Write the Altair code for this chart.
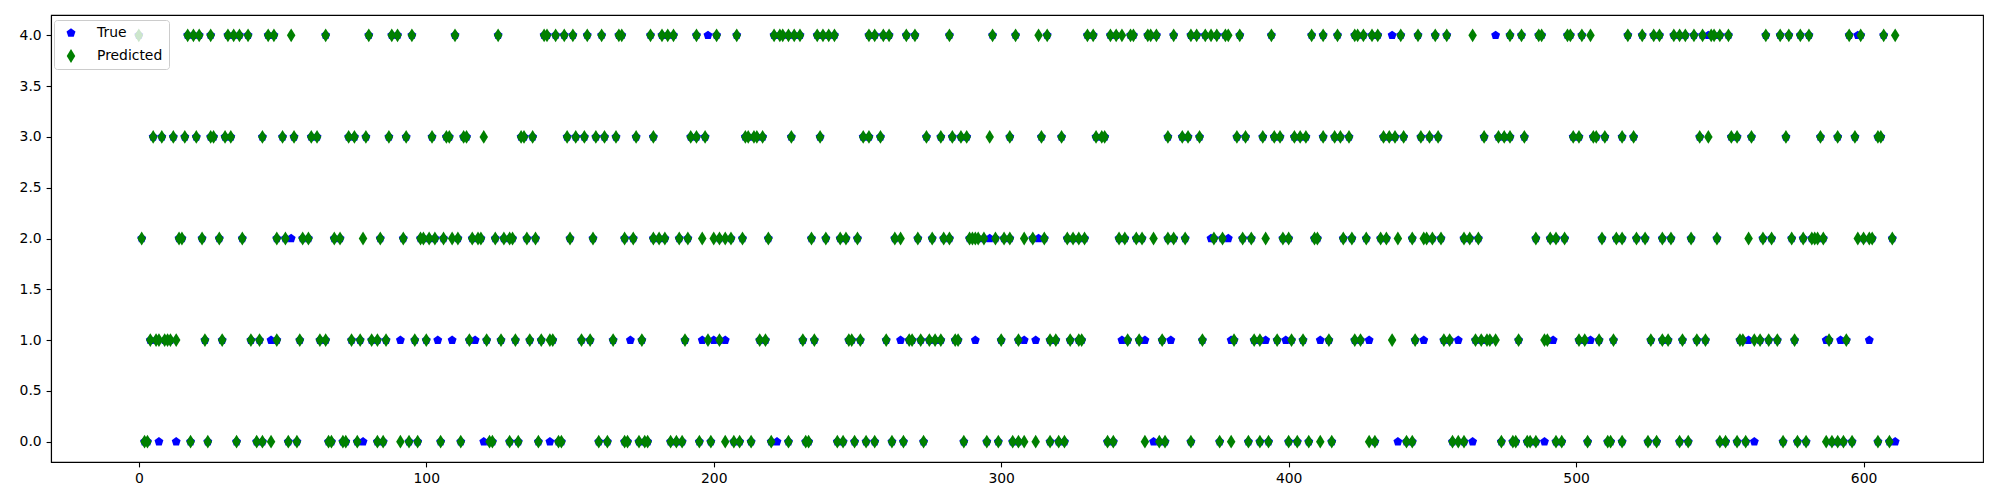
import altair as alt
import pandas as pd

# Predicted class (green thin diamonds): sample indices per class row
pred_4 = [0, 17, 19, 21, 25, 31, 33, 35, 38, 45, 47,
          53, 65, 80, 88, 90, 95,
          110, 125, 141, 142, 145, 148, 151,
          156, 161, 167, 168, 178, 182, 184, 186, 194, 201,
          208, 221, 223, 224, 226, 228, 230, 236, 238, 240, 242, 254, 256,
          259, 261, 267, 270, 282, 297, 305,
          313, 316, 330, 332, 338, 340, 342, 345, 346, 351, 352, 354, 360,
          366, 368, 371, 373, 375, 378, 379, 383, 394, 408, 412,
          417, 423, 424, 426, 429, 431, 439, 445, 451, 455, 464,
          477, 481, 487, 488, 497, 498, 502, 505,
          518, 523, 527, 529, 534, 536, 538, 541, 544, 547, 548, 550, 553, 566,
          571, 574, 578, 581, 595, 599, 607, 611]
pred_3 = [5, 8, 12, 16, 20, 25, 26, 30, 32, 43,
          50, 54, 60, 62, 73, 75, 79, 87, 93,
          102, 107, 108, 113, 114, 120, 133, 134, 137, 149, 152,
          155, 159, 162, 166, 173, 179, 192, 194, 197,
          211, 212, 214, 215, 217, 227, 237, 252, 254,
          258, 274, 279, 283, 286, 288, 296, 303,
          314, 321, 333, 335, 336, 358,
          363, 365, 369, 382, 385, 391, 395, 397, 402, 404, 406, 412,
          416, 418, 421, 433, 435, 437, 440, 446, 449, 452,
          468, 473, 475, 477, 482, 499, 501, 506, 507, 510, 516,
          520, 543, 546, 554, 556, 561,
          573, 585, 591, 597, 605, 606]
pred_2 = [1, 14, 15, 22, 28, 36, 48,
          51, 57, 59, 68, 70, 78, 84, 92, 98, 99,
          101, 103, 106, 109, 111, 116, 118, 119, 124, 127, 129, 130, 135, 138, 150,
          158, 169, 172, 179, 181, 183, 188, 191, 196, 200, 202, 204,
          206, 210, 219, 234, 239, 244, 246, 250,
          263, 265, 271, 276, 280, 282, 289, 290, 291, 292, 294, 298, 301, 303, 308,
          311, 315, 323, 325, 327, 329, 341, 343, 347, 349, 353, 358, 360,
          364, 374, 377, 384, 387, 392, 398, 400, 409, 410,
          419, 422, 427, 432, 434, 438, 443, 447, 448, 450, 453, 461, 463,
          466, 486, 491, 493, 496, 509, 514, 516,
          521, 524, 530, 533, 540, 549, 560, 565, 568,
          575, 579, 582, 583, 584, 586, 598, 600, 602, 603, 610]
pred_1 = [4, 6, 7, 9, 10, 11, 13, 23, 29, 39, 42, 48,
          56, 63, 65, 74, 77, 81, 83, 86, 96, 100,
          115, 121, 126, 131, 136, 140, 143, 144,
          154, 157, 165, 175, 190, 198, 202,
          216, 218, 231, 235, 247, 248, 251,
          260, 268, 269, 272, 275, 277, 279, 284, 285, 300, 306,
          317, 319, 324, 327, 328, 344, 348, 356,
          370, 381, 388, 390, 396, 401, 405,
          414, 423, 425, 436, 444, 454, 456,
          465, 467, 469, 470, 472, 480, 489, 490, 501, 503, 508, 513,
          526, 530, 532, 537, 542, 545, 557, 558, 562, 564, 567,
          570, 576, 588, 594]
pred_0 = [2, 3, 18, 24, 34, 41, 43, 46,
          52, 55, 66, 67, 71, 72, 76, 83, 85, 91, 94, 97,
          105, 112, 122, 123, 129, 132, 139, 146, 147,
          160, 163, 169, 170, 174, 176, 177, 185, 187, 189, 195, 199, 204,
          207, 209, 213, 220, 226, 232, 233, 243, 245, 249, 253, 256,
          262, 266, 273, 287, 295, 299, 304, 306, 308,
          312, 317, 320, 322, 337, 339, 350, 355, 357,
          366, 376, 380, 386, 390, 393, 400, 403, 407, 411,
          415, 428, 430, 441, 443, 457, 459, 461,
          474, 478, 479, 483, 484, 486, 493, 495, 504, 511, 512, 516,
          525, 528, 536, 539, 550, 552, 556, 559,
          572, 577, 580, 587, 589, 591, 593, 596, 605, 609]

# True class where it differs from the prediction (visible blue pentagons)
miss_4 = [198, 436, 472, 546, 598]
miss_3 = []
miss_2 = [53, 296, 313, 373, 379]
miss_1 = [46, 91, 104, 109, 117, 171, 196, 200, 204, 265, 291, 308, 312, 342,
          350, 359, 380, 392, 399, 411, 428, 447, 459, 492, 505, 560, 587, 592, 602]
miss_0 = [7, 13, 78, 120, 143, 222, 353, 438, 464, 489, 562, 611]

preds = {4: pred_4, 3: pred_3, 2: pred_2, 1: pred_1, 0: pred_0}
misses = {4: miss_4, 3: miss_3, 2: miss_2, 1: miss_1, 0: miss_0}
miss_idx = set(i for v in misses.values() for i in v)

records = []
for cls, idxs in misses.items():
    for i in idxs:
        records.append({"idx": i, "cls": cls, "series": "True"})
for cls, idxs in preds.items():
    for i in idxs:
        if i not in miss_idx:
            records.append({"idx": i, "cls": cls, "series": "True"})
for cls, idxs in preds.items():
    for i in idxs:
        records.append({"idx": i, "cls": cls, "series": "Predicted"})
df = pd.DataFrame(records)

PENT = "M0,-0.68L0.647,-0.21L0.4,0.55L-0.4,0.55L-0.647,-0.21Z"
DIAM = "M0,-1L0.62,0L0,1L-0.62,0Z"

domain = ["True", "Predicted"]
legend = alt.Legend(title=None, orient="none", legendX=3, legendY=5,
                    fillColor="rgba(255,255,255,0.8)", strokeColor="#cccccc",
                    cornerRadius=3, padding=6, symbolOffset=4,
                    labelFont="DejaVu Sans", labelFontSize=13.9, labelColor="black",
                    symbolSize=190, labelOffset=19, rowPadding=9, symbolStrokeWidth=0)
color = alt.Color("series:N", scale=alt.Scale(domain=domain, range=["#0000ff", "#008000"]), legend=legend)
shape = alt.Shape("series:N", scale=alt.Scale(domain=domain, range=[PENT, DIAM]), legend=legend)
x = alt.X("idx:Q", scale=alt.Scale(domain=[-30.55, 641.55], nice=False, zero=False),
          axis=alt.Axis(title=None, values=[0, 100, 200, 300, 400, 500, 600], format="d"))
y = alt.Y("cls:Q", scale=alt.Scale(domain=[-0.2, 4.2], nice=False, zero=False),
          axis=alt.Axis(title=None, values=[0, 0.5, 1, 1.5, 2, 2.5, 3, 3.5, 4], format=".1f"))

base = alt.Chart(df).mark_point(filled=True, size=190, opacity=1).encode(x=x, y=y, color=color, shape=shape)
true_layer = base.transform_filter(alt.datum.series == "True")
pred_layer = base.transform_filter(alt.datum.series == "Predicted")

chart = alt.layer(true_layer, pred_layer).properties(
    width=1932, height=447,
    autosize=alt.AutoSizeParams(type="none"),
    padding={"left": 43, "top": 7, "right": 9, "bottom": 30},
).configure_axis(
    labelFont="DejaVu Sans", labelFontSize=13.9, labelColor="black",
    tickColor="black", domainColor="black", tickSize=4.9, tickWidth=1.1,
    domainWidth=1.1, grid=False, labelPadding=4.9,
).configure_view(stroke="black", strokeWidth=1.1)

chart.save("out.html", embed_options={"renderer": "svg", "actions": False})
